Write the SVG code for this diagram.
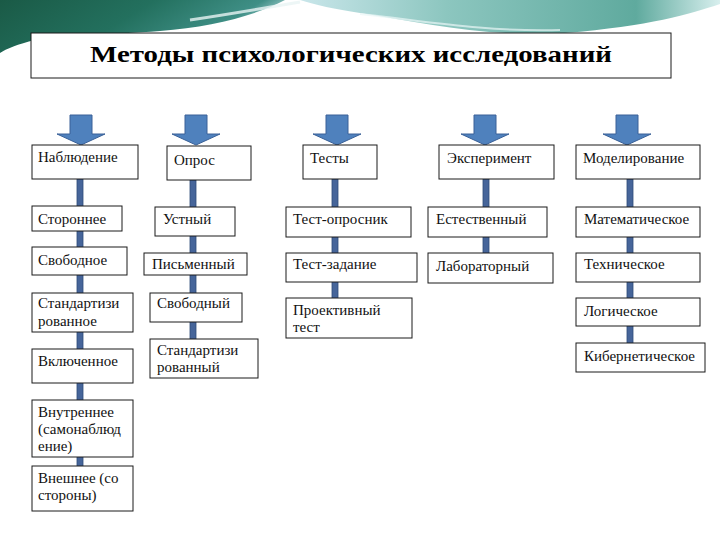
<svg xmlns="http://www.w3.org/2000/svg" width="720" height="540" viewBox="0 0 720 540">
<defs>
<linearGradient id="gDark" x1="0" y1="0" x2="1" y2="0.3">
<stop offset="0" stop-color="#1a5a46"/>
<stop offset="0.5" stop-color="#23705e"/>
<stop offset="0.85" stop-color="#3f8f86"/>
<stop offset="1" stop-color="#b9dde0"/>
</linearGradient>
<linearGradient id="gLight" x1="0" y1="0" x2="1" y2="0">
<stop offset="0" stop-color="#c9e6ea"/>
<stop offset="0.35" stop-color="#8cc6bf"/>
<stop offset="0.8" stop-color="#5faa9e"/>
<stop offset="1" stop-color="#d8efee"/>
</linearGradient>
<style>
.box{fill:#fff;stroke:#1a1a1a;stroke-width:1}
.lbl{font-family:"Liberation Serif","DejaVu Serif",serif;font-size:15px;fill:#111}
.bar{fill:#46659a;stroke:#2e4b78;stroke-width:0.8}
.arr{fill:#4f81bd;stroke:#3a6198;stroke-width:1}
</style>
</defs>
<rect width="720" height="540" fill="#fff"/>
<!-- banner -->
<path d="M0,0 H285 C 255,16 210,27 160,31 C 110,35 65,34 35,40 C 18,44 6,49 0,53 Z" fill="url(#gDark)"/>
<path d="M190,20 C 230,14 265,8 300,2" stroke="#e8f4f4" stroke-width="3" fill="none" opacity="0.8"/>
<path d="M300,0 H720 V4 C 690,14 650,26 565,33 C 485,38 420,22 360,13 C 335,9 315,5 300,0 Z" fill="url(#gLight)"/>
<path d="M360,14 C 420,20 480,32 560,30" stroke="#eaf6f6" stroke-width="2" fill="none" opacity="0.7"/>
<g id="title">
<rect x="31" y="33" width="640" height="45" class="box"/>
<text x="351" y="62" text-anchor="middle" font-family="Liberation Serif, DejaVu Serif, serif" font-size="23" font-weight="bold" textLength="522" lengthAdjust="spacingAndGlyphs" fill="#000">Методы психологических исследований</text>
</g>
<g id="connectors">
<path class="arr" d="M70,115 h22 v19 h13 l-24,11 l-24,-11 h13 z"/>
<path class="arr" d="M185,115 h22 v19 h13 l-24,11 l-24,-11 h13 z"/>
<path class="arr" d="M326,115 h22 v19 h13 l-24,11 l-24,-11 h13 z"/>
<path class="arr" d="M474,115 h22 v19 h13 l-24,11 l-24,-11 h13 z"/>
<path class="arr" d="M616,115 h22 v19 h13 l-24,11 l-24,-11 h13 z"/>
<rect class="bar" x="77" y="179" width="6" height="290"/>
<rect class="bar" x="190" y="180" width="6" height="160"/>
<rect class="bar" x="332" y="179" width="6" height="120"/>
<rect class="bar" x="483" y="179" width="6" height="75"/>
<rect class="bar" x="627" y="179" width="6" height="165"/>
</g>
<!-- column 1 -->
<g id="n-nabl"><rect class="box" x="32" y="145" width="106" height="34"/><text class="lbl" x="38" y="162">Наблюдение</text></g>
<g id="n-storon"><rect class="box" x="32" y="206" width="90" height="25"/><text class="lbl" x="38" y="224">Стороннее</text></g>
<g id="n-svobodnoe"><rect class="box" x="32" y="247" width="95" height="28"/><text class="lbl" x="38" y="265">Свободное</text></g>
<g id="n-standart1"><rect class="box" x="32" y="293" width="101" height="39"/><text class="lbl" x="38" y="308">Стандартизи</text><text class="lbl" x="38" y="326">рованное</text></g>
<g id="n-vkl"><rect class="box" x="32" y="349" width="101" height="34"/><text class="lbl" x="38" y="366">Включенное</text></g>
<g id="n-vnutr"><rect class="box" x="32" y="400" width="101" height="57"/><text class="lbl" x="38" y="417">Внутреннее</text><text class="lbl" x="38" y="434">(самонаблюд</text><text class="lbl" x="38" y="451">ение)</text></g>
<g id="n-vnesh"><rect class="box" x="32" y="466" width="101" height="45"/><text class="lbl" x="38" y="483">Внешнее (со</text><text class="lbl" x="38" y="500">стороны)</text></g>
<!-- column 2 -->
<g id="n-opros"><rect class="box" x="167" y="146" width="84" height="34"/><text class="lbl" x="174" y="165">Опрос</text></g>
<g id="n-ustn"><rect class="box" x="155" y="207" width="80" height="29"/><text class="lbl" x="163" y="224">Устный</text></g>
<g id="n-pism"><rect class="box" x="144" y="253" width="103" height="22"/><text class="lbl" x="152" y="269">Письменный</text></g>
<g id="n-svobodn"><rect class="box" x="150" y="293" width="92" height="29"/><text class="lbl" x="157" y="308">Свободный</text></g>
<g id="n-standart2"><rect class="box" x="150" y="339" width="108" height="39"/><text class="lbl" x="157" y="355">Стандартизи</text><text class="lbl" x="157" y="372">рованный</text></g>
<!-- column 3 -->
<g id="n-testy"><rect class="box" x="303" y="145" width="74" height="34"/><text class="lbl" x="310" y="163">Тесты</text></g>
<g id="n-oprosnik"><rect class="box" x="286" y="207" width="125" height="30"/><text class="lbl" x="293" y="224">Тест-опросник</text></g>
<g id="n-zadanie"><rect class="box" x="286" y="253" width="131" height="29"/><text class="lbl" x="293" y="269">Тест-задание</text></g>
<g id="n-proekt"><rect class="box" x="286" y="298" width="126" height="40"/><text class="lbl" x="293" y="315">Проективный</text><text class="lbl" x="293" y="332">тест</text></g>
<!-- column 4 -->
<g id="n-eksper"><rect class="box" x="439" y="145" width="115" height="34"/><text class="lbl" x="447" y="163">Эксперимент</text></g>
<g id="n-estestv"><rect class="box" x="428" y="207" width="119" height="30"/><text class="lbl" x="436" y="224">Естественный</text></g>
<g id="n-labor"><rect class="box" x="428" y="253" width="125" height="30"/><text class="lbl" x="436" y="271">Лабораторный</text></g>
<!-- column 5 -->
<g id="n-model"><rect class="box" x="576" y="145" width="124" height="34"/><text class="lbl" x="583" y="163">Моделирование</text></g>
<g id="n-matem"><rect class="box" x="576" y="207" width="124" height="30"/><text class="lbl" x="584" y="224">Математическое</text></g>
<g id="n-tehn"><rect class="box" x="576" y="253" width="124" height="29"/><text class="lbl" x="584" y="269">Техническое</text></g>
<g id="n-logich"><rect class="box" x="576" y="298" width="124" height="28"/><text class="lbl" x="584" y="316">Логическое</text></g>
<g id="n-kibern"><rect class="box" x="576" y="343" width="129" height="29"/><text class="lbl" x="584" y="361">Кибернетическое</text></g>
</svg>
